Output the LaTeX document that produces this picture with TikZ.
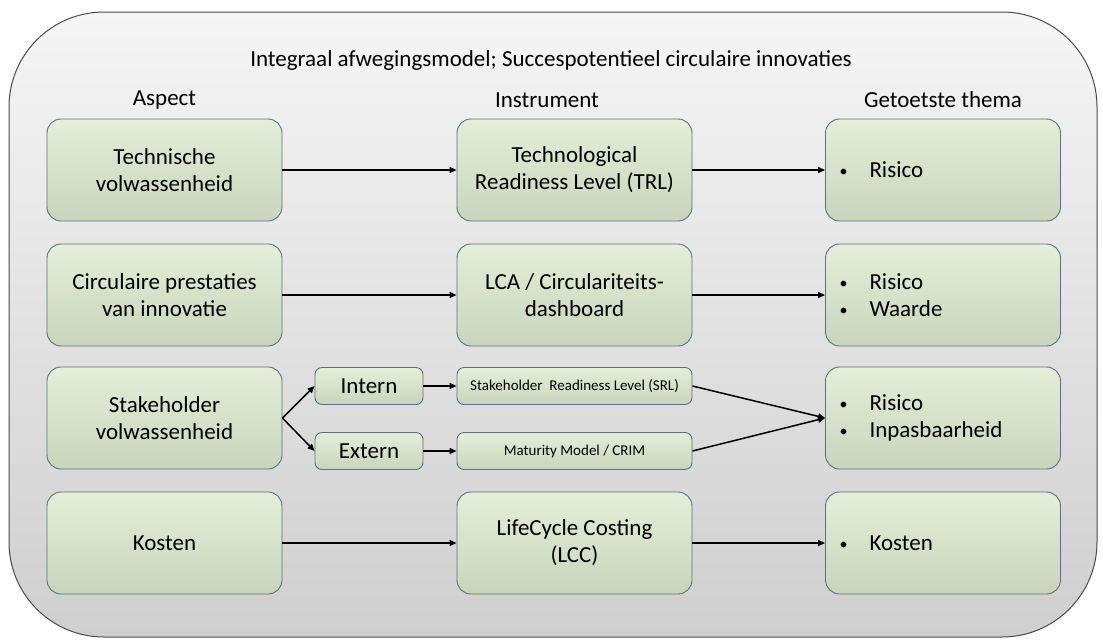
\documentclass[tikz,border=0pt]{standalone}
\usepackage{fontspec}
\setmainfont{Carlito}
\usetikzlibrary{arrows.meta}

\definecolor{boxtop}{HTML}{E4EED9}
\definecolor{boxbot}{HTML}{C9D5BB}
\definecolor{boxline}{HTML}{5E7080}
\definecolor{bgtop}{HTML}{F5F5F5}
\definecolor{bgbot}{HTML}{CFCFCF}
\definecolor{bgline}{HTML}{4A4A4A}

\newcommand{\bul}[1]{\makebox[30pt][l]{\raisebox{1pt}{\fontsize{16}{16}\selectfont\textbullet}}#1}

\tikzset{
  stagebox/.style={draw=boxline, line width=0.9pt, rounded corners=14pt,
    top color=boxtop, bottom color=boxbot, minimum width=235pt,
    minimum height=102pt, align=center, font=\fontsize{23}{27}\selectfont},
  themebox/.style={stagebox, align=left, text width=207pt},
  splitbox/.style={draw=boxline, line width=0.9pt, rounded corners=7pt,
    top color=boxtop, bottom color=boxbot, minimum width=108pt,
    minimum height=37pt, font=\fontsize{23}{27}\selectfont},
  toolbox/.style={splitbox, minimum width=235pt, font=\fontsize{15}{18}\selectfont},
  header/.style={font=\fontsize{23}{27}\selectfont},
  link/.style={-{Triangle[length=7pt,width=6pt]}, line width=1.5pt}
}

\begin{document}
\begin{tikzpicture}[x=1pt,y=-1pt]
  \useasboundingbox (0,0) rectangle (1103,643);
  % background panel
  \shade[top color=bgtop, bottom color=bgbot, draw=bgline, line width=1pt,
    rounded corners=95pt] (9,12) rectangle (1097,637);

  % titles
  \node[header] (title) at (551,60) {Integraal afwegingsmodel; Succespotentieel circulaire innovaties};
  \node[header] (haspect) at (164.5,100) {Aspect};
  \node[header] (hinstr) at (547,100) {Instrument};
  \node[header] (hthema) at (943,100) {Getoetste thema};

  % aspects
  \node[stagebox] (tech) at (164.5,170) {Technische\\volwassenheid};
  \node[stagebox] (circ) at (164.5,295) {Circulaire prestaties\\van innovatie};
  \node[stagebox] (stake) at (164.5,418) {Stakeholder\\volwassenheid};
  \node[stagebox] (cost) at (164.5,543) {Kosten};

  % instruments
  \node[stagebox] (trl) at (574.5,170) {Technological\\Readiness Level (TRL)};
  \node[stagebox] (lca) at (574.5,295) {LCA / Circulariteits-\\dashboard};
  \node[splitbox] (intern) at (369,386) {Intern};
  \node[splitbox] (extern) at (369,451) {Extern};
  \node[toolbox] (srl) at (574.5,386) {Stakeholder\ \ Readiness Level (SRL)};
  \node[toolbox] (crim) at (574.5,451) {Maturity Model / CRIM};
  \node[stagebox] (lcc) at (574.5,543) {LifeCycle Costing\\(LCC)};

  % themes
  \node[themebox] (th1) at (943,170) {\bul{Risico}};
  \node[themebox] (th2) at (943,295) {\bul{Risico}\\\bul{Waarde}};
  \node[themebox] (th3) at (943,418) {\bul{Risico}\\\bul{Inpasbaarheid}};
  \node[themebox] (th4) at (943,543) {\bul{Kosten}};

  % connectors
  \draw[link] (tech) -- (trl);
  \draw[link] (trl) -- (th1);
  \draw[link] (circ) -- (lca);
  \draw[link] (lca) -- (th2);
  \draw[link] (stake.east) -- (intern.west);
  \draw[link] (stake.east) -- (extern.west);
  \draw[link] (intern) -- (srl);
  \draw[link] (extern) -- (crim);
  \draw[link] (srl.east) -- (th3.west);
  \draw[link] (crim.east) -- (th3.west);
  \draw[link] (cost) -- (lcc);
  \draw[link] (lcc) -- (th4);
\end{tikzpicture}
\end{document}
